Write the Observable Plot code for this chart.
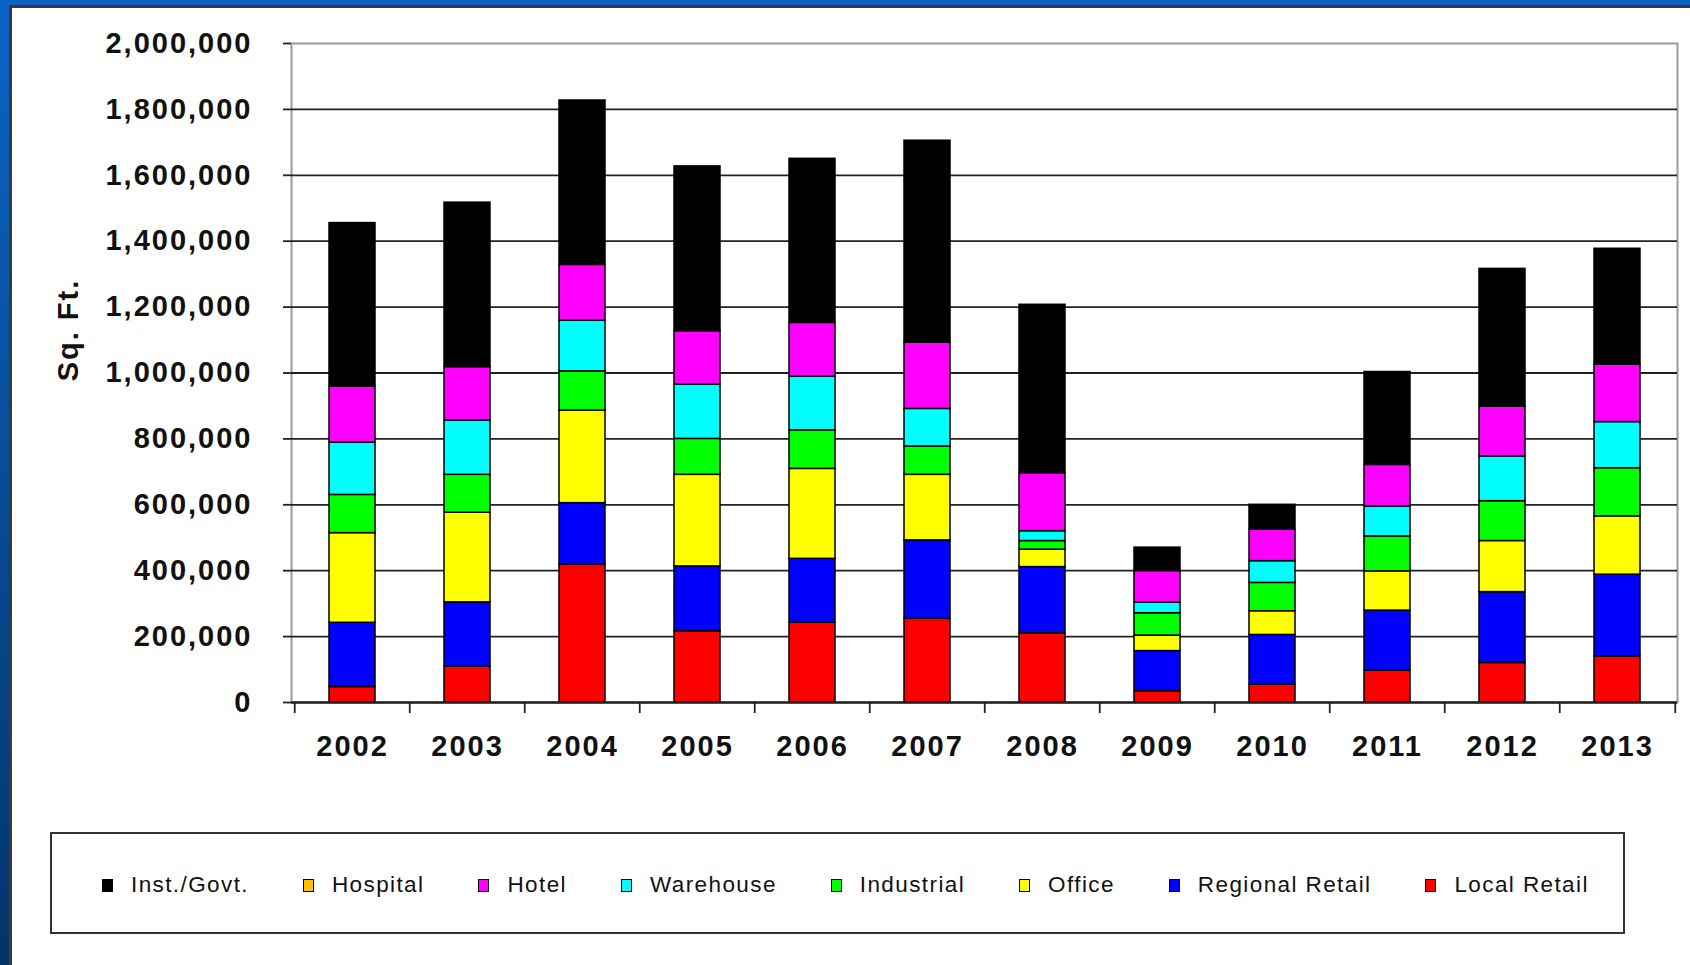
<!DOCTYPE html>
<html>
<head>
<meta charset="utf-8">
<script src="https://cdn.jsdelivr.net/npm/d3@7"></script>
<script src="https://cdn.jsdelivr.net/npm/@observablehq/plot@0.6"></script>
<style>
html, body { margin: 0; padding: 0; }
body {
  width: 1690px; height: 965px; overflow: hidden; position: relative;
  background: linear-gradient(#0a64c6, #043468);
  font-family: "Liberation Sans", Arial, sans-serif;
}
#panel {
  position: absolute; left: 9px; top: 5px; right: 0; bottom: 0;
  background: #fff;
  border-top: 3px solid #3a3a3a; border-left: 3px solid #3a3a3a;
}
#chart { position: absolute; left: 0; top: 0; }
#chart svg text { letter-spacing: 2px; }
#legend {
  position: absolute; left: 50px; top: 832px; width: 1575px; height: 102px;
  box-sizing: border-box; border: 2px solid #333;
  display: flex; align-items: center; padding-left: 50px; padding-top: 4px; gap: 54px;
  background: #fff;
}
.item { display: flex; align-items: center; font-size: 22.5px; letter-spacing: 1.4px; color: #111; }
.sw { width: 9px; height: 11px; border: 1.5px solid #000; margin-right: 18px; }
</style>
</head>
<body>
<div id="panel"></div>
<div id="chart"></div>
<div id="legend"></div>
<script>
const years = ["2002","2003","2004","2005","2006","2007","2008","2009","2010","2011","2012","2013"];

// stacked segments (sq. ft.), bottom to top
const localRetail    = [47000,109000,419000,216000,242000,254000,210000,34000,54000,97000,120000,140000];
const regionalRetail = [195000,195000,186000,197000,194000,238000,201000,122000,151000,182000,215000,248000];
const office         = [272000,272000,281000,278000,273000,199000,53000,47000,72000,119000,155000,177000];
const industrial     = [116000,115000,119000,109000,117000,86000,26000,68000,86000,106000,121000,146000];
const warehouse      = [159000,165000,154000,165000,163000,114000,30000,32000,66000,91000,136000,140000];
const hotel          = [170000,162000,169000,162000,163000,201000,176000,96000,96000,126000,151000,174000];
const hospital       = [0,0,0,0,0,0,0,0,0,0,0,0];
const instGovt       = [496000,499000,499000,500000,498000,613000,511000,71000,75000,282000,418000,352000];

const stackOrder = ["Local Retail","Regional Retail","Office","Industrial","Warehouse","Hotel","Hospital","Inst./Govt."];
const seriesValues = [localRetail, regionalRetail, office, industrial, warehouse, hotel, hospital, instGovt];
const seriesColors = ["#ff0000","#0000ff","#ffff00","#00ff00","#00ffff","#ff00ff","#ffc000","#000000"];
const legendOrder = ["Inst./Govt.","Hospital","Hotel","Warehouse","Industrial","Office","Regional Retail","Local Retail"];
const yTicks = [0,200000,400000,600000,800000,1000000,1200000,1400000,1600000,1800000,2000000];
const yTitle = "Sq. Ft.";

const rows = [];
stackOrder.forEach((s, k) => years.forEach((y, i) => rows.push({year: y, series: s, value: seriesValues[k][i]})));

const W = 1690, H = 790, ML = 291, MR = 13, MT = 43, MB = 88;
const step = (W - ML - MR) / years.length;
const dark = "#222";

const chart = Plot.plot({
  width: W, height: H, marginLeft: ML, marginRight: MR, marginTop: MT, marginBottom: MB,
  style: {background: "none", fontFamily: "Liberation Sans, Arial, sans-serif", color: "#111", overflow: "visible"},
  x: {domain: years, paddingInner: 0.6, paddingOuter: 0.3, axis: null},
  y: {domain: [0, 2000000], axis: null},
  color: {domain: stackOrder, range: seriesColors},
  marks: [
    Plot.frame({stroke: "#9a9a9a", strokeWidth: 2}),
    Plot.gridY({ticks: yTicks.filter(t => t < 2000000), stroke: dark, strokeOpacity: 1, strokeWidth: 1.8}),
    Plot.barY(rows, Plot.stackY({order: stackOrder}, {
      x: "year", y: "value", fill: "series", stroke: "#000", strokeWidth: 1.5,
      filter: d => d.value > 0
    })),
    Plot.ruleY([0], {stroke: dark, strokeWidth: 1.8}),
    Plot.axisY({
      ticks: yTicks, tickSize: 8, tickPadding: 31, line: true, tickFormat: d3.format(","),
      fontSize: 29, fontWeight: "bold", stroke: dark, strokeWidth: 1.8, label: null
    }),
    Plot.text([yTitle], {
      frameAnchor: "left", rotate: -90, dx: -223, dy: -43,
      fontSize: 29, fontWeight: "bold", textAnchor: "middle", lineAnchor: "middle", fill: "#111"
    }),
    Plot.axisX({tickSize: 0, tickPadding: 33, fontSize: 29, fontWeight: "bold", label: null}),
    Plot.axisX({ticks: years, tickSize: 11, fill: "none", dx: -step / 2, stroke: dark, strokeWidth: 1.8, label: null}),
    Plot.axisX({ticks: [years[years.length - 1]], tickSize: 11, fill: "none", dx: step / 2, stroke: dark, strokeWidth: 1.8, label: null})
  ]
});
document.getElementById("chart").appendChild(chart);

const legend = document.getElementById("legend");
legendOrder.forEach(name => {
  const it = document.createElement("div");
  it.className = "item";
  const sw = document.createElement("span");
  sw.className = "sw";
  sw.style.background = seriesColors[stackOrder.indexOf(name)];
  const tx = document.createElement("span");
  tx.textContent = name;
  it.appendChild(sw); it.appendChild(tx);
  legend.appendChild(it);
});
</script>
</body>
</html>
